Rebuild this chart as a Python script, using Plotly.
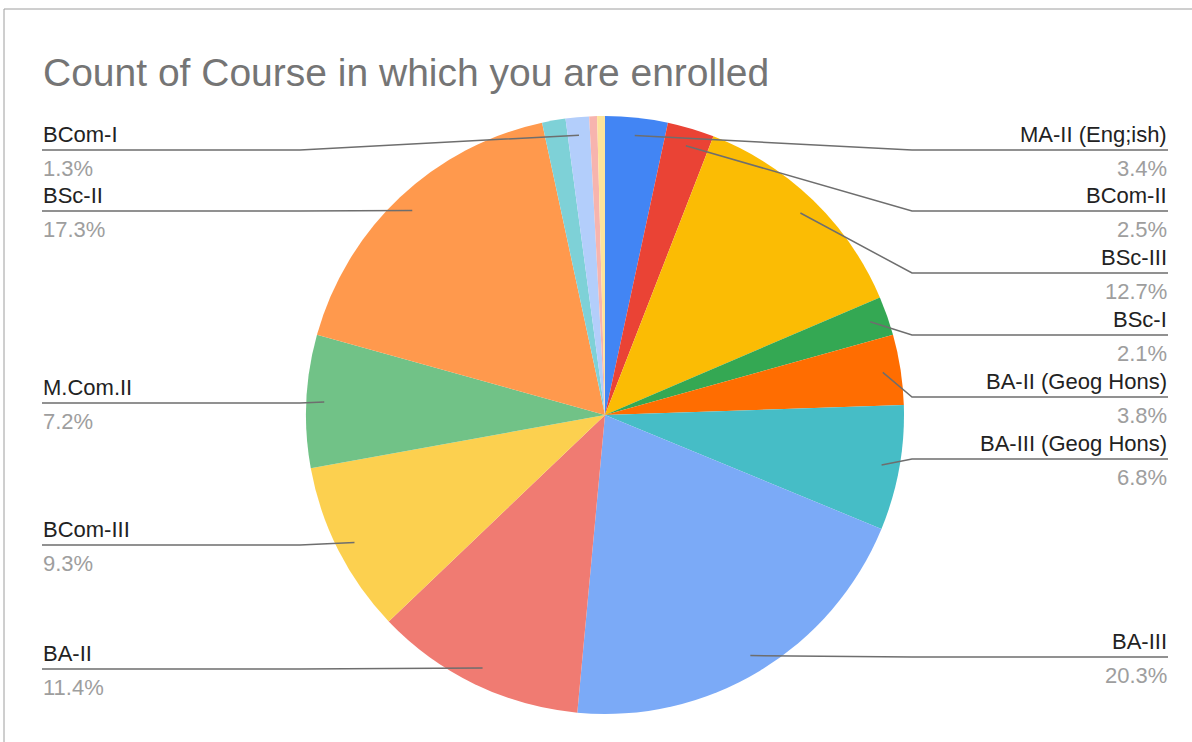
import math
import plotly.graph_objects as go

# ---- data ----
courses = ["MA-II (Eng;ish)", "BCom-II", "BSc-III", "BSc-I", "BA-II (Geog Hons)",
           "BA-III (Geog Hons)", "BA-III", "BA-II", "BCom-III", "M.Com.II", "BSc-II",
           "Other A", "BCom-I", "Other B", "Other C"]
counts = [8, 6, 30, 5, 9, 16, 48, 27, 22, 17, 41, 3, 3, 1, 1]
colors = ["#4285F4", "#EA4335", "#FBBC04", "#34A853", "#FF6D01", "#46BDC6",
          "#7BAAF7", "#F07B72", "#FCD04F", "#71C287", "#FF994D", "#7ED1D7",
          "#B3CEFB", "#F7B4AE", "#FDE49B"]
labeled = ["MA-II (Eng;ish)", "BCom-II", "BSc-III", "BSc-I", "BA-II (Geog Hons)",
           "BA-III (Geog Hons)", "BA-III", "BA-II", "BCom-III", "M.Com.II", "BSc-II", "BCom-I"]

# ---- layout (pixels) ----
W, H = 1192, 742
CX, CY, R = 605, 415, 299
DOT_R = 0.94 * R
label_line_y = {"MA-II (Eng;ish)": 150, "BCom-II": 211, "BSc-III": 273, "BSc-I": 335,
                "BA-II (Geog Hons)": 397, "BA-III (Geog Hons)": 459, "BA-III": 657,
                "BA-II": 669, "BCom-III": 545, "M.Com.II": 403, "BSc-II": 211, "BCom-I": 150}
RIGHT_ELBOW, RIGHT_END = 912, 1168
LEFT_ELBOW, LEFT_END = 300, 42
FONT = "Liberation Sans, Arial"

fig = go.Figure()
fig.add_trace(go.Pie(
    labels=courses, values=counts, sort=False, direction="clockwise", rotation=0,
    marker=dict(colors=colors, line=dict(width=0)),
    textinfo="none", hoverinfo="label+percent+value", showlegend=False,
    domain=dict(x=[(CX - R) / W, (CX + R) / W], y=[(H - CY - R) / H, (H - CY + R) / H]),
))

total = sum(counts)
cum = 0
dots_x, dots_y = [], []
shapes, annots = [], []
for name, v in zip(courses, counts):
    mid = (cum + v / 2) / total
    cum += v
    if name not in labeled:
        continue
    th = 2 * math.pi * mid
    dx = CX + DOT_R * math.sin(th)
    dy = CY - DOT_R * math.cos(th)
    dots_x.append(dx)
    dots_y.append(dy)
    ly = label_line_y[name]
    right = dx >= CX
    elbow = RIGHT_ELBOW if right else LEFT_ELBOW
    end = RIGHT_END if right else LEFT_END
    path = f"M {dx},{dy} L {elbow},{ly} L {end},{ly}"
    shapes.append(dict(type="path", path=path, xref="x", yref="y",
                       line=dict(color="#6E6E6E", width=1.5), layer="above"))
    pct = f"{v / total * 100:.1f}%"
    anchor = "right" if right else "left"
    annots.append(dict(x=end, y=ly - 2, xref="x", yref="y", text=name, showarrow=False,
                       xanchor=anchor, yanchor="bottom", borderpad=0,
                       font=dict(family=FONT, size=22, color="#222222")))
    annots.append(dict(x=end, y=ly + 5, xref="x", yref="y", text=pct, showarrow=False,
                       xanchor=anchor, yanchor="top", borderpad=0,
                       font=dict(family=FONT, size=22, color="#9E9E9E")))

fig.add_trace(go.Scatter(x=dots_x, y=dots_y, mode="markers", hoverinfo="skip",
                         marker=dict(color="#9E9E9E", size=8), showlegend=False))

annots.append(dict(x=41, y=72, xref="x", yref="y", text="Count of Course in which you are enrolled",
                   showarrow=False, xanchor="left", yanchor="middle",
                   font=dict(family=FONT, size=39, color="#757575")))
shapes.append(dict(type="path", path=f"M 4,{H+5} L 4,9 L {W+5},9", xref="x", yref="y",
                   line=dict(color="#9E9E9E", width=1)))

fig.update_layout(
    width=W, height=H, margin=dict(l=0, r=0, t=0, b=0),
    paper_bgcolor="white", plot_bgcolor="rgba(0,0,0,0)",
    xaxis=dict(range=[0, W], visible=False, domain=[0, 1], fixedrange=True),
    yaxis=dict(range=[H, 0], visible=False, domain=[0, 1], fixedrange=True),
    shapes=shapes, annotations=annots,
)
fig.write_html("out.html", config={"displayModeBar": False},
               post_script="document.body.style.margin='0px';")
